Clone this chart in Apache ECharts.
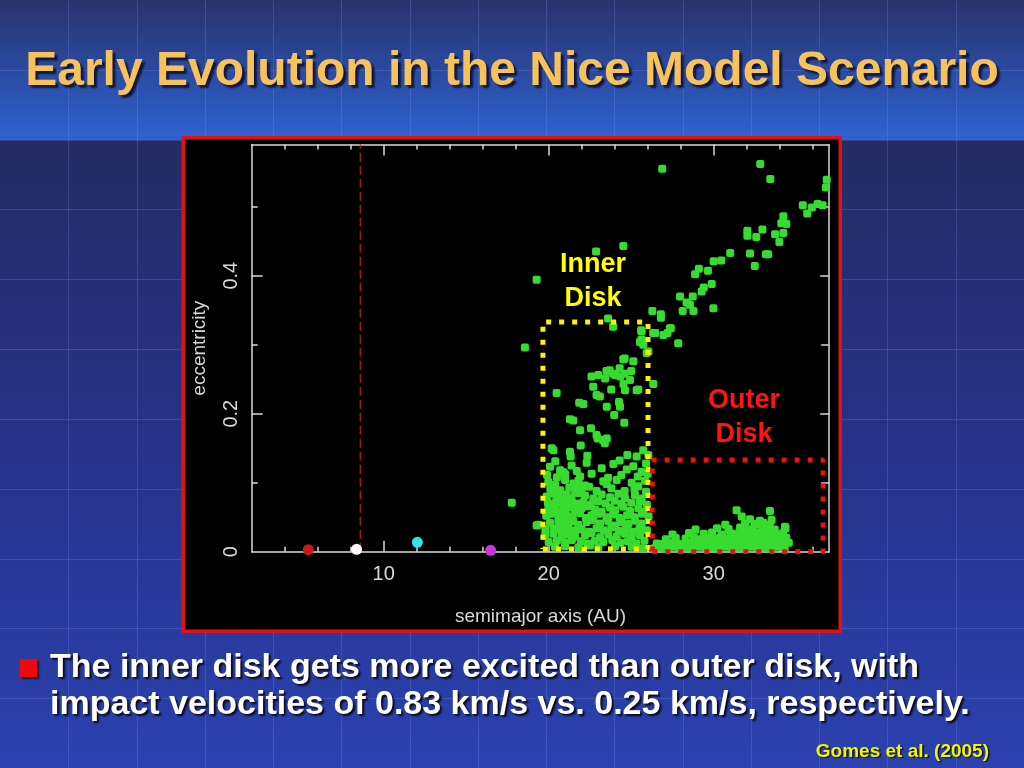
<!DOCTYPE html>
<html>
<head>
<meta charset="utf-8">
<script src="https://cdn.jsdelivr.net/npm/echarts@6/dist/echarts.min.js"></script>
<style>
html,body{margin:0;padding:0;background:#262d66;}
#chart{width:1024px;height:768px;}
</style>
</head>
<body>
<div id="chart"></div>
<script>
// ---------- tick labels ----------
const xLabelTicks = [10, 20, 30];
const xMinorTicks = [4, 6, 8, 10, 12, 14, 16, 18, 20, 22, 24, 26, 28, 30, 32, 34, 36];
const yLabelTicks = [0, 0.2, 0.4];
const yMajorTicks = [0.2, 0.4];
const yMinorTicks = [0.1, 0.3, 0.5];

// ---------- planets [a, e] ----------
const planetNames = ['Jupiter', 'Saturn', 'Uranus', 'Neptune'];
const planetValues = [[5.43, 0.003], [8.36, 0.0035], [12.04, 0.0136], [16.48, 0.002]];
const planetColors = ['#c81a1a', '#ffffff', '#33e2e8', '#cc33dd'];

// ---------- resonance line ----------
const resonanceA = 8.58;

// ---------- planetesimals [a, e] ----------
const highPoints = [
  [26.88,0.555],[32.82,0.562],[33.43,0.540],[36.85,0.539],[36.8,0.528],
  [35.4,0.502],[35.95,0.499],[36.3,0.504],[36.6,0.502],[35.67,0.490],
  [34.22,0.486],[34.1,0.476],[34.4,0.475],[34.22,0.462],[33.72,0.460],[33.98,0.449],
  [32.95,0.467],[32.04,0.465],[32.04,0.458],[32.58,0.456],
  [31.0,0.433],[32.2,0.432],[33.17,0.431],[33.3,0.431],[32.49,0.414],
  [30.0,0.421],[30.46,0.422],[29.65,0.407],[28.87,0.402],[29.1,0.41],
  [29.88,0.388],[29.27,0.377],[29.4,0.383],[28.73,0.370],[27.96,0.370],
  [28.36,0.361],[28.56,0.358],[28.12,0.349],[28.77,0.349],[29.98,0.353],
  [26.28,0.349],[26.8,0.344],[26.8,0.339],[27.35,0.324],[26.45,0.317],[27.2,0.317],
  [22.87,0.435],[24.52,0.443],[19.27,0.394],[18.56,0.296],
  [27.4,0.324],[27.85,0.302],[26.95,0.314],[26.33,0.317]
];
const innerUpper = [
  [23.6,0.338],[23.9,0.326],[25.63,0.319],[25.6,0.321],[25.67,0.305],[25.53,0.304],[25.73,0.300],
  [25.94,0.288],[26.04,0.29],[24.52,0.279],[25.13,0.276],[24.6,0.28],
  [23.5,0.262],[23.9,0.258],[24.3,0.266],[24.6,0.258],[25.0,0.262],[22.59,0.254],[23.0,0.256],
  [23.42,0.251],[23.69,0.263],[24.03,0.256],[24.33,0.254],[24.93,0.249],
  [24.53,0.243],[22.7,0.239],[23.79,0.235],[26.34,0.243],[25.43,0.235],[25.33,0.234],[24.62,0.234],
  [20.48,0.230],[22.9,0.227],[23.1,0.225],[21.85,0.216],[22.1,0.214],[24.26,0.217],[24.32,0.210],
  [23.52,0.210],[23.97,0.198],[21.29,0.192],[21.49,0.190],[24.58,0.187],[21.9,0.176],[22.56,0.179],
  [22.9,0.169],[22.97,0.164],[23.52,0.164],[23.4,0.157],[23.3,0.162],[21.94,0.154],[20.28,0.147],
  [20.18,0.150],[21.29,0.145],[21.33,0.138],[22.34,0.139],[24.77,0.140],[25.33,0.138],[26.04,0.140],
  [25.73,0.147],[25.62,0.307],[26.44,0.317]
];
const innerDense = [
  [20.08,0.123],[20.69,0.118],[21.39,0.125],[21.7,0.117],[23.21,0.121],[23.92,0.127],[24.73,0.119],
  [25.13,0.124],[25.63,0.116],[22.3,0.129],[20.4,0.131],[24.3,0.132],[25.9,0.128],
  [19.9,0.111],[20.5,0.108],[21.0,0.112],[21.9,0.109],[22.6,0.113],[23.6,0.107],[24.4,0.111],
  [25.4,0.109],[26.0,0.113],
  [19.98,0.101],[20.38,0.097],[20.99,0.104],[21.49,0.099],[21.8,0.103],[22.2,0.096],[23.31,0.102],
  [23.51,0.098],[24.12,0.104],[25.03,0.100],[25.43,0.095],[25.84,0.103],
  [20.1,0.091],[20.7,0.089],[21.25,0.093],[21.6,0.087],[22.0,0.090],[22.45,0.094],[22.9,0.088],
  [23.8,0.092],[24.6,0.088],[25.2,0.091],[25.9,0.087],
  [19.88,0.080],[20.28,0.084],[20.58,0.079],[21.09,0.083],[21.39,0.078],[21.8,0.085],[22.2,0.081],
  [22.7,0.077],[23.21,0.083],[23.72,0.079],[24.22,0.084],[24.62,0.078],[25.23,0.082],[25.63,0.077],
  [19.95,0.071],[20.45,0.073],[20.85,0.069],[21.3,0.074],[21.7,0.070],[22.1,0.072],[22.55,0.068],
  [23.0,0.073],[23.45,0.070],[24.0,0.074],[24.4,0.069],[25.0,0.071],[25.5,0.073],[25.95,0.068],
  [19.98,0.062],[20.38,0.065],[20.89,0.060],[21.19,0.064],[21.59,0.059],[22.0,0.063],[22.4,0.066],
  [22.81,0.061],[23.21,0.058],[23.72,0.064],[24.02,0.060],[24.52,0.065],[24.93,0.059],[25.43,0.063],
  [25.74,0.058],
  [19.85,0.052],[20.2,0.055],[20.65,0.050],[21.05,0.054],[21.45,0.051],[21.9,0.056],[22.25,0.049],
  [22.6,0.053],[23.05,0.055],[23.5,0.050],[23.9,0.054],[24.3,0.049],[24.75,0.053],[25.2,0.050],
  [25.65,0.055],[26.05,0.051],
  [20.08,0.042],[20.58,0.045],[20.99,0.040],[21.49,0.044],[21.8,0.039],[22.3,0.043],[22.7,0.046],
  [23.11,0.041],[23.61,0.044],[24.02,0.038],[24.42,0.043],[24.83,0.040],[25.23,0.045],[25.63,0.041],
  [19.8,0.032],[20.3,0.034],[20.75,0.030],[21.2,0.035],[21.65,0.031],[22.0,0.033],[22.45,0.029],
  [22.9,0.034],[23.35,0.031],[23.8,0.035],[24.25,0.030],[24.65,0.033],[25.1,0.029],[25.5,0.034],
  [25.95,0.031],
  [19.78,0.023],[20.28,0.026],[20.79,0.021],[21.19,0.025],[21.59,0.022],[22.2,0.024],[22.6,0.027],
  [23.11,0.021],[23.61,0.025],[24.12,0.022],[24.62,0.026],[25.03,0.020],[25.53,0.024],
  [20.0,0.014],[20.5,0.016],[21.0,0.013],[21.4,0.017],[21.95,0.015],[22.35,0.012],[22.8,0.016],
  [23.3,0.014],[23.85,0.017],[24.35,0.013],[24.8,0.015],[25.3,0.012],[25.8,0.016],
  [20.38,0.007],[20.99,0.008],[21.8,0.006],[22.5,0.009],[23.01,0.006],[24.02,0.008],[25.03,0.007],
  [25.7,0.005],
  [20.2,0.068],[20.6,0.058],[20.9,0.077],[21.1,0.047],[21.5,0.066],[20.3,0.087],[21.7,0.095],
  [20.7,0.037],[21.3,0.029],[20.9,0.115],
  [17.76,0.071],[19.37,0.039],[19.27,0.038]
];
const outerDisk = [
  [26.4,0.005],[26.75,0.006],[27.15,0.004],[27.5,0.007],[27.9,0.005],[28.3,0.006],[28.7,0.004],
  [29.1,0.007],[29.5,0.005],[29.9,0.006],[30.3,0.004],[30.7,0.007],[31.1,0.005],[31.5,0.006],
  [31.9,0.004],[32.3,0.007],[32.7,0.005],[33.1,0.006],[33.5,0.004],[33.9,0.007],[34.3,0.005],
  [26.55,0.012],[26.95,0.011],[27.35,0.013],[27.75,0.012],[28.15,0.011],[28.55,0.013],[28.95,0.012],
  [29.35,0.011],[29.75,0.013],[30.15,0.012],[30.55,0.011],[30.95,0.013],[31.35,0.012],[31.75,0.011],
  [32.15,0.013],[32.55,0.012],[32.95,0.011],[33.35,0.013],[33.75,0.012],[34.15,0.011],[34.55,0.013],
  [27.1,0.018],[27.7,0.020],[28.3,0.019],[28.8,0.021],[29.2,0.018],[29.6,0.020],[30.0,0.019],
  [30.4,0.021],[30.8,0.018],[31.2,0.020],[31.6,0.019],[32.0,0.021],[32.4,0.018],[32.8,0.020],
  [33.2,0.019],[33.6,0.021],[34.0,0.018],[34.4,0.020],
  [27.5,0.025],[28.5,0.027],[29.4,0.026],[29.9,0.028],[30.5,0.025],[31.0,0.027],[31.4,0.026],
  [31.8,0.028],[32.2,0.025],[32.6,0.027],[33.0,0.026],[33.4,0.028],[33.8,0.025],[34.2,0.027],
  [28.9,0.032],[30.2,0.034],[30.9,0.033],[31.6,0.035],[32.0,0.032],[32.4,0.034],[32.9,0.033],
  [33.3,0.035],[33.7,0.032],[34.35,0.034],
  [30.7,0.039],[31.9,0.041],[32.5,0.040],[33.0,0.042],[33.4,0.039],
  [31.39,0.060],[31.7,0.051],[33.41,0.059],[33.51,0.046],[34.32,0.036],[32.2,0.047],[32.8,0.045]
];

// ---------- region boxes (corner coordinates in a, e) ----------
const innerBox = [[19.65,0.004],[26.02,0.004],[26.02,0.333],[19.65,0.333],[19.65,0.004]];
const outerBox = [[26.28,0.0],[36.63,0.0],[36.63,0.133],[26.28,0.133],[26.28,0.0]];
const innerLabelPos = [22.69, 0.391];
const outerLabelPos = [31.84, 0.195];

// ---------- decoration ----------
const W = 1024, H = 768;
const deco = [];
deco.push({type:'rect', z:-20, shape:{x:0,y:0,width:W,height:140},
  style:{fill:{type:'linear',x:0,y:0,x2:0,y2:1,colorStops:[
    {offset:0,color:'#29336c'},{offset:0.5,color:'#2a4aa0'},{offset:1,color:'#2e63d2'}]}}});
deco.push({type:'rect', z:-20, shape:{x:0,y:140,width:W,height:H-140},
  style:{fill:{type:'linear',x:0,y:0,x2:0,y2:1,colorStops:[
    {offset:0,color:'#252c63'},{offset:0.5,color:'#27338a'},{offset:1,color:'#2b41b0'}]}}});
for (let k = 1; k < 15; k++) {
  const x = Math.round(k * W / 15) + 0.5;
  deco.push({type:'line', z:-19, shape:{x1:x,y1:0,x2:x,y2:H}, style:{stroke:'rgba(140,160,255,0.22)',lineWidth:1}});
}
for (let k = 1; k < 11; k++) {
  const y = Math.round(k * H / 11) + 0.5;
  deco.push({type:'line', z:-19, shape:{x1:0,y1:y,x2:W,y2:y}, style:{stroke:'rgba(140,160,255,0.22)',lineWidth:1}});
}
// chart panel
deco.push({type:'rect', z:-10, shape:{x:183.25,y:137.75,width:657,height:493.5},
  style:{fill:'#000000', stroke:'#e01212', lineWidth:3.5}});
// title
deco.push({type:'text', z:5, x:512, y:72, style:{
  text:'Early Evolution in the Nice Model Scenario',
  font:'bold 48px "Liberation Sans", Arial, sans-serif', fill:'#f7c25a',
  align:'center', verticalAlign:'middle',
  textShadowColor:'rgba(10,15,50,0.9)', textShadowOffsetX:3, textShadowOffsetY:3, textShadowBlur:2}});
// bullet square
deco.push({type:'rect', z:5, shape:{x:20,y:659,width:17,height:18},
  style:{fill:'#ee0a0a', shadowColor:'rgba(0,0,0,0.7)', shadowOffsetX:2, shadowOffsetY:2, shadowBlur:2}});
const bulletLines = ['The inner disk gets more excited than outer disk, with',
                     'impact velocities of 0.83 km/s vs. 0.25 km/s, respectively.'];
bulletLines.forEach((t, i) => {
  deco.push({type:'text', z:5, x:50, y:668 + i * 37, style:{
    text:t, font:'bold 34px "Liberation Sans", Arial, sans-serif', fill:'#ffffff',
    align:'left', verticalAlign:'middle',
    textShadowColor:'rgba(0,0,0,0.85)', textShadowOffsetX:2, textShadowOffsetY:2, textShadowBlur:2}});
});
deco.push({type:'text', z:5, x:989, y:751.5, style:{
  text:'Gomes et al. (2005)', font:'bold 19px "Liberation Sans", Arial, sans-serif', fill:'#f5f500',
  align:'right', verticalAlign:'middle',
  textShadowColor:'rgba(0,0,0,0.8)', textShadowOffsetX:1.5, textShadowOffsetY:1.5, textShadowBlur:1}});

// ---------- axes ----------
const axisColor = '#d9d9d9';
const axisFont = '"Liberation Sans", Arial, sans-serif';
function xAx(pos, ticks, len, withLine, withLabel) {
  return {
    type:'value', min:2, max:37, position:pos,
    axisLine:{show:withLine, onZero:false, lineStyle:{color:axisColor, width:1.5}},
    axisTick:{show:true, inside:true, length:len, customValues:ticks, lineStyle:{color:axisColor, width:1.5}},
    axisLabel:withLabel ? {show:true, customValues:xLabelTicks, color:axisColor, fontSize:20, fontFamily:axisFont, margin:13} : {show:false},
    splitLine:{show:false},
    name: withLabel ? 'semimajor axis (AU)' : '',
    nameLocation:'middle', nameGap:56,
    nameTextStyle:{color:axisColor, fontSize:19, fontFamily:axisFont}
  };
}
function yAx(pos, ticks, len, withLine, withLabel) {
  return {
    type:'value', min:0, max:0.59, position:pos,
    axisLine:{show:withLine, onZero:false, lineStyle:{color:axisColor, width:1.5}},
    axisTick:{show:true, inside:true, length:len, customValues:ticks, lineStyle:{color:axisColor, width:1.5}},
    axisLabel:withLabel ? {show:true, customValues:yLabelTicks, rotate:90, color:axisColor, fontSize:20, fontFamily:axisFont, margin:10} : {show:false},
    splitLine:{show:false},
    name: withLabel ? 'eccentricity' : '',
    nameLocation:'middle', nameGap:42,
    nameTextStyle:{color:axisColor, fontSize:19, fontFamily:axisFont}
  };
}

const green = '#38dc30';
const dotStyle = {type:'scatter', xAxisIndex:0, yAxisIndex:0, symbol:'roundRect', symbolSize:8,
  itemStyle:{color:green, opacity:1}, z:3, silent:true};

const option = {
  animation:false,
  backgroundColor:'transparent',
  graphic:{elements:deco},
  grid:{left:251.7, top:144.6, right:194.8, bottom:216.3, containLabel:false},
  xAxis:[
    xAx('bottom', xMinorTicks, 5, true, true),
    xAx('bottom', xLabelTicks, 11, false, false),
    xAx('top', xMinorTicks, 5, true, false),
    xAx('top', xLabelTicks, 11, false, false)
  ],
  yAxis:[
    yAx('left', yMinorTicks, 6, true, true),
    yAx('left', yMajorTicks, 11, false, false),
    yAx('right', yMinorTicks, 8, true, false),
    yAx('right', yMajorTicks, 9, false, false)
  ],
  series:[
    Object.assign({name:'high', data:highPoints}, dotStyle),
    Object.assign({name:'innerUpper', data:innerUpper}, dotStyle),
    Object.assign({name:'innerDense', data:innerDense}, dotStyle),
    Object.assign({name:'outerDisk', data:outerDisk}, dotStyle),
    {type:'line', name:'resonance', data:[[resonanceA,0],[resonanceA,0.59]], symbol:'none',
      lineStyle:{color:'#b52222', width:1.2, type:[9,4], opacity:1}, z:2, silent:true},
    {type:'scatter', name:'planets', symbol:'circle', symbolSize:11, z:4, silent:true,
      data:planetValues.map((v,i)=>({name:planetNames[i], value:v, itemStyle:{color:planetColors[i], opacity:1}}))},
    {type:'line', name:'innerBox', data:innerBox, symbol:'none', z:6, silent:true,
      lineStyle:{color:'#fff200', width:5, type:[5,8], cap:'butt', opacity:1}},
    {type:'line', name:'outerBox', data:outerBox, symbol:'none', z:6, silent:true,
      lineStyle:{color:'#ee1111', width:5, type:[5,8], cap:'butt', opacity:1}},
    {type:'scatter', name:'innerLabel', data:[innerLabelPos], symbolSize:0, z:7, silent:true,
      itemStyle:{opacity:1},
      label:{show:true, position:'inside', formatter:'Inner\nDisk', color:'#ffff00', opacity:1,
        fontSize:27, fontWeight:'bold', fontFamily:axisFont, lineHeight:34}},
    {type:'scatter', name:'outerLabel', data:[outerLabelPos], symbolSize:0, z:7, silent:true,
      itemStyle:{opacity:1},
      label:{show:true, position:'inside', formatter:'Outer\nDisk', color:'#ff1414', opacity:1,
        fontSize:27, fontWeight:'bold', fontFamily:axisFont, lineHeight:34}}
  ]
};
const chart = echarts.init(document.getElementById('chart'), null, {renderer:'canvas'});
chart.setOption(option);
</script>
</body>
</html>
